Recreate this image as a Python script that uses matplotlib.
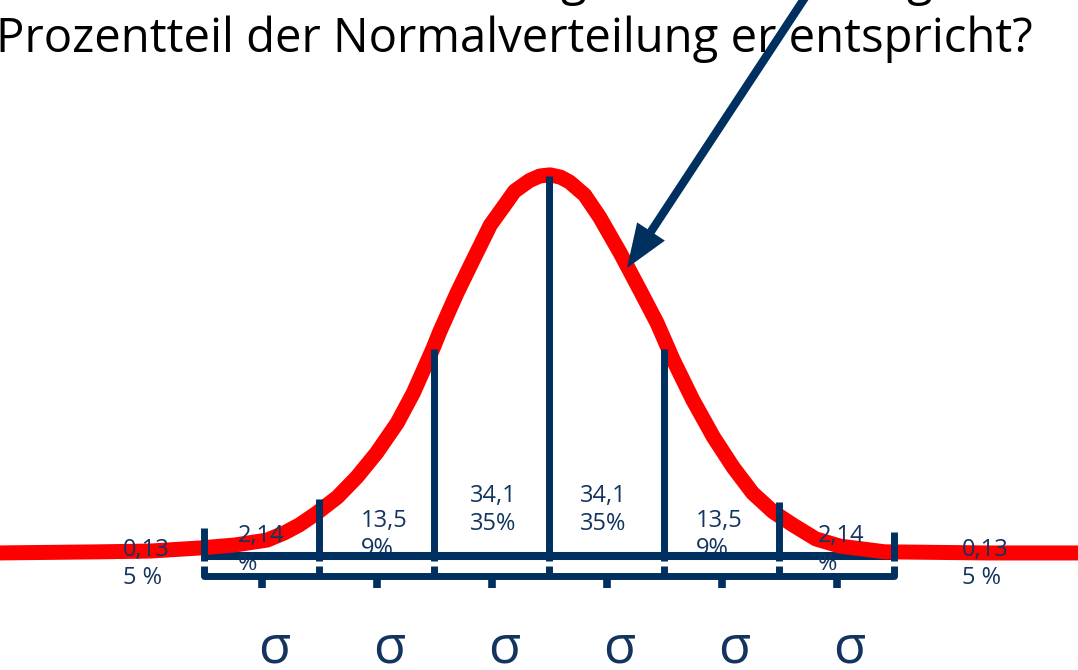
import matplotlib
matplotlib.use('Agg')
import matplotlib.pyplot as plt
import matplotlib.transforms as mtransforms
from matplotlib.patches import FancyArrowPatch

W, H = 1078, 670
plt.rcParams['font.family'] = ['Open Sans', 'DejaVu Sans']

# curve: x in sigma units, y as fraction of peak height
curve_x = [-4.80, -3.90, -3.47, -3.04, -2.73, -2.45, -2.30, -2.17, -2.02, -1.84,
           -1.67, -1.50, -1.32, -1.18, -1.01, -0.95, -0.80, -0.66, -0.51, -0.37,
           -0.30, -0.17, -0.08, 0.01, 0.10, 0.18, 0.31, 0.44, 0.62, 0.79,
           0.94, 1.08, 1.25, 1.43, 1.60, 1.77, 1.95, 2.12, 2.32, 2.53,
           2.92, 3.82, 4.80]
curve_y = [0.008, 0.011, 0.013, 0.021, 0.029, 0.042, 0.061, 0.082, 0.113, 0.155,
           0.208, 0.271, 0.350, 0.429, 0.545, 0.590, 0.692, 0.779, 0.871, 0.930,
           0.960, 0.988, 1.000, 1.003, 0.997, 0.984, 0.950, 0.892, 0.797, 0.700,
           0.613, 0.516, 0.411, 0.313, 0.234, 0.166, 0.116, 0.082, 0.045, 0.026,
           0.011, 0.008, 0.008]

# sigma boundaries and the heights of the vertical lines
bounds = [-3, -2, -1, 0, 1, 2, 3]
line_tops = [0.074, 0.150, 0.545, 1.0, 0.545, 0.142, 0.063]

pct_top = ['0,13', '2,14', '13,5', '34,1', '34,1', '13,5', '2,14', '0,13']
pct_bottom = ['5 %', '%', '9%', '35%', '35%', '9%', '%', '5 %']
pct_left = [123, 238, 361, 470, 580, 696, 818, 962]      # pixels
pct_base = [556, 542, 527, 502, 502, 527, 542, 556]      # pixels, first line baseline

sigma_labels = ['σ'] * 6

title = 'Prozentteil der Normalverteilung er entspricht?'

navy = '#00305f'
textc = '#12345f'

# pixel layout -> data: mean at x=549, 115 px per sigma; baseline y=556, peak 380 px
X0, X1 = (0 - 549) / 115, (W - 549) / 115
Y0, Y1 = (556 - H) / 380, 556 / 380

fig = plt.figure(figsize=(W / 100, H / 100), dpi=100)
ax = fig.add_axes([0, 0, 1, 1])
ax.set_xlim(X0, X1)
ax.set_ylim(Y0, Y1)
ax.axis('off')
pix = mtransforms.Affine2D().scale(1 / W, -1 / H).translate(0, 1) + fig.transFigure

# axis line
ax.plot([bounds[0], bounds[-1]], [0, 0], color=navy, lw=5.8, solid_capstyle='butt', zorder=2)

# red curve
ax.plot(curve_x, curve_y, color='#ff0000', lw=10.8, solid_capstyle='round',
        solid_joinstyle='round', zorder=3)

# vertical lines
for b, t in zip(bounds, line_tops):
    ax.plot([b, b], [-0.012, t], color=navy, lw=5, solid_capstyle='butt', zorder=5)

# bracket under the axis
yb = -0.053
ax.plot([bounds[0], bounds[0], bounds[-1], bounds[-1]], [-0.027, yb, yb, -0.027],
        color=navy, lw=5, solid_joinstyle='round', solid_capstyle='butt', zorder=5)
for b in bounds[1:-1]:
    ax.plot([b, b], [-0.027, yb], color=navy, lw=5, solid_capstyle='butt', zorder=5)
mids = [(a + b) / 2 for a, b in zip(bounds[:-1], bounds[1:])]
for m in mids:
    ax.plot([m, m], [yb, -0.085], color=navy, lw=5.5, solid_capstyle='butt', zorder=5)

# sigma labels
for m, s in zip(mids, sigma_labels):
    ax.text(m + 0.11, -0.28, s, fontsize=38, color=textc, ha='center',
            va='baseline', zorder=6)

# percentage labels
for i, (a, b) in enumerate(zip(pct_top, pct_bottom)):
    z = 1 if a == '13,5' else 4
    ax.text(pct_left[i], pct_base[i], a, transform=pix, fontsize=17, color=textc,
            va='baseline', ha='left', zorder=z)
    ax.text(pct_left[i], pct_base[i] + 28, b, transform=pix, fontsize=17, color=textc,
            va='baseline', ha='left', zorder=z)

# title and the cut-off line above it
ax.text(-4, 52, title, transform=pix, fontsize=34, color='black', va='baseline',
        ha='left', zorder=6)
for gx in [573, 919]:
    ax.text(gx, -5, 'g', transform=pix, fontsize=34, color='black', va='baseline',
            ha='center', zorder=6)

# arrow
arr = FancyArrowPatch((806, -4), (627, 268), transform=pix,
                      arrowstyle='-|>,head_length=1.0,head_width=0.38',
                      mutation_scale=20, lw=6, color=navy, shrinkA=0, shrinkB=0,
                      joinstyle='miter', capstyle='butt', zorder=7)
ax.add_patch(arr)

fig.savefig('out.png', dpi=100)
